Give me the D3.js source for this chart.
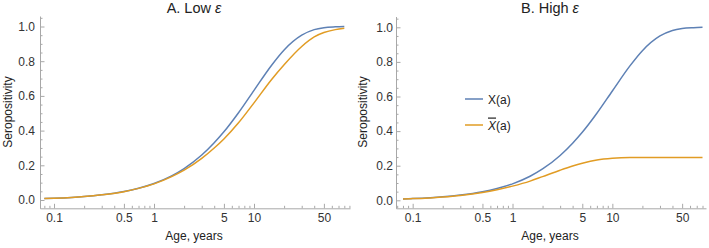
<!DOCTYPE html>
<html>
<head>
<meta charset="utf-8">
<script src="https://cdn.jsdelivr.net/npm/d3@7"></script>
<style>
  body { margin: 0; background: #fff; }
  svg { display: block; font-family: "Liberation Sans", Arial, sans-serif; }
  .tick text { font-size: 12px; fill: #333; }
  .axis path, .axis line { stroke: #a8a8a8; }
  .title { font-size: 14.5px; fill: #222; }
  .axisLabel { font-size: 12px; fill: #222; }
</style>
</head>
<body>
<div id="chart"></div>
<script>
var ages = [0.08, 0.1, 0.15, 0.2, 0.3, 0.5, 0.7, 1, 1.5, 2, 3, 4, 5, 7, 10, 15, 20, 30, 40, 50, 65, 80];

// X(a), same in both panels
var xSeries = [0.008, 0.010, 0.015, 0.020, 0.030, 0.049, 0.068, 0.095, 0.139, 0.181, 0.259, 0.330,
               0.393, 0.503, 0.632, 0.777, 0.865, 0.950, 0.982, 0.993, 0.998, 1.000];

// X-bar(a), panel A (low epsilon)
var xBarLow = [0.008, 0.010, 0.015, 0.020, 0.030, 0.048, 0.067, 0.093, 0.135, 0.172, 0.240, 0.300,
               0.352, 0.445, 0.560, 0.695, 0.780, 0.885, 0.940, 0.965, 0.982, 0.990];

// X-bar(a), panel B (high epsilon)
var xBarHigh = [0.008, 0.010, 0.014, 0.019, 0.028, 0.045, 0.061, 0.082, 0.111, 0.137, 0.174, 0.198,
                0.214, 0.233, 0.243, 0.247, 0.247, 0.247, 0.247, 0.247, 0.247, 0.247];

var xMajor = [0.1, 0.5, 1, 5, 10, 50];
var xMinor = [0.07, 0.08, 0.09, 0.2, 0.3, 0.4, 0.6, 0.7, 0.8, 0.9, 2, 3, 4, 6, 7, 8, 9, 20, 30, 40, 60, 70, 80, 90];
var yMajor = [0, 0.2, 0.4, 0.6, 0.8, 1.0];
var yMinor = [0.05, 0.1, 0.15, 0.25, 0.3, 0.35, 0.45, 0.5, 0.55, 0.65, 0.7, 0.75, 0.85, 0.9, 0.95, 1.05];

var blue   = '#5e81b5';
var orange = '#e19c24';

var svg = d3.select ('#chart')
            .append ('svg')
            .attr ('width', 709)
            .attr ('height', 248);

var drawPanel = function (p)
{
    var x = d3.scaleLog ()
              .domain (p.xDomain)
              .range ([p.left, p.right]);

    // data scale: 0 and 1 pinned to pixel rows
    var y = d3.scaleLinear ()
              .domain ([0, 1])
              .range ([p.y0, p.y1]);

    // axis scale runs a bit beyond the data
    var yAx = d3.scaleLinear ()
                .domain ([y.invert (p.axisY), y.invert (p.top)])
                .range ([p.axisY, p.top]);

    var g = svg.append ('g');

    // x axis, ticks point up
    g.append ('g')
     .attr ('class', 'axis')
     .attr ('transform', 'translate(0,' + p.axisY + ')')
     .call (d3.axisBottom (x).tickValues (xMinor.filter (d => x(d) >= p.left && x(d) <= p.right))
               .tickSize (-2.5).tickSizeOuter (0).tickFormat (''))
     .select ('.domain').remove ();

    g.append ('g')
     .attr ('class', 'axis')
     .attr ('transform', 'translate(0,' + p.axisY + ')')
     .call (d3.axisBottom (x).tickValues (xMajor).tickSize (-4.5).tickSizeOuter (0)
               .tickPadding (5).tickFormat (d3.format ('')))
     .call (s => s.selectAll ('.tick text').attr ('fill', '#333'));

    // y axis, ticks point right
    g.append ('g')
     .attr ('class', 'axis')
     .attr ('transform', 'translate(' + p.left + ',0)')
     .call (d3.axisLeft (yAx).tickValues (yMinor.filter (d => yAx(d) >= p.top))
               .tickSize (-2.5).tickSizeOuter (0).tickFormat (''))
     .select ('.domain').remove ();

    g.append ('g')
     .attr ('class', 'axis')
     .attr ('transform', 'translate(' + p.left + ',0)')
     .call (d3.axisLeft (yAx).tickValues (yMajor).tickSize (-4.5).tickSizeOuter (0)
               .tickPadding (p.yPad).tickFormat (d3.format ('.1f')))
     .call (s => s.selectAll ('.tick text').attr ('fill', '#333'));

    var line = function (vals)
    {
        return d3.line ()
                 .x ((d, i) => x (ages[i]))
                 .y (d => y (d))
                 .curve (d3.curveMonotoneX) (vals);
    };

    g.append ('path')
     .attr ('d', line (xSeries))
     .attr ('fill', 'none')
     .attr ('stroke', blue)
     .attr ('stroke-width', 1.5);

    g.append ('path')
     .attr ('d', line (p.xBar))
     .attr ('fill', 'none')
     .attr ('stroke', orange)
     .attr ('stroke-width', 1.5);

    // title
    var t = g.append ('text')
             .attr ('class', 'title')
             .attr ('x', p.titleX)
             .attr ('y', 13)
             .style ('text-anchor', 'middle');
    t.append ('tspan').text (p.title + ' ');
    t.append ('tspan').style ('font-style', 'italic').text ('ε');

    g.append ('text')
     .attr ('class', 'axisLabel')
     .attr ('x', p.titleX)
     .attr ('y', 240)
     .style ('text-anchor', 'middle')
     .text ('Age, years');

    g.append ('text')
     .attr ('class', 'axisLabel')
     .attr ('transform', 'translate(' + p.ylabX + ',112) rotate(-90)')
     .style ('text-anchor', 'middle')
     .text ('Seropositivity');

    return g;
};

drawPanel ({ xDomain: [0.0724, 91.2], left: 40,  right: 350, y0: 200,   y1: 26.5,
             axisY: 208.3, top: 16, yPad: 5, xBar: xBarLow,
             title: 'A. Low', titleX: 194, ylabX: 12 });

var gB = drawPanel ({ xDomain: [0.0681, 86.7], left: 396, right: 706, y0: 200.3, y1: 27.3,
                      axisY: 208.3, top: 16.5, yPad: 3, xBar: xBarHigh,
                      title: 'B. High', titleX: 550, ylabX: 367 });

// legend
gB.append ('line')
  .attr ('x1', 465).attr ('x2', 483).attr ('y1', 99).attr ('y2', 99)
  .attr ('stroke', blue).attr ('stroke-width', 1.5);

gB.append ('text')
  .attr ('class', 'axisLabel')
  .attr ('x', 488).attr ('y', 103.5)
  .text ('X(a)');

gB.append ('line')
  .attr ('x1', 465).attr ('x2', 483).attr ('y1', 125).attr ('y2', 125)
  .attr ('stroke', orange).attr ('stroke-width', 1.5);

var leg2 = gB.append ('text')
             .attr ('class', 'axisLabel')
             .attr ('x', 488).attr ('y', 129.5);
leg2.append ('tspan')
    .style ('font-style', 'italic')
    .style ('text-decoration', 'overline')
    .text ('X');
leg2.append ('tspan').text ('(a)');
</script>
</body>
</html>
